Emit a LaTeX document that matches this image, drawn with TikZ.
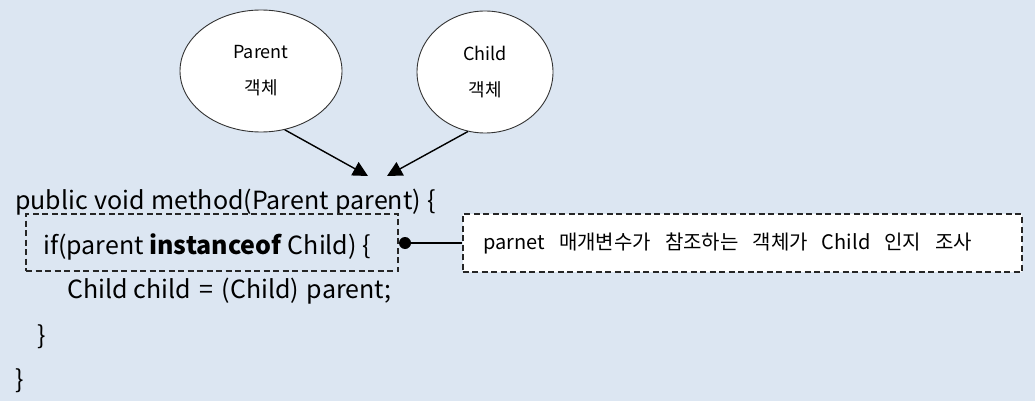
\documentclass[tikz,border=0pt]{standalone}
\usepackage{fontspec}
\setmainfont{Noto Sans CJK KR}
\usetikzlibrary{arrows.meta,shapes.geometric}
\definecolor{bg}{HTML}{DCE6F2}
\newcommand{\wsp}{\hspace{14pt}}
\begin{document}
\begin{tikzpicture}[x=1pt,y=-1pt,
  obj/.style={draw=black!80,line width=0.9pt,fill=white,ellipse,minimum width=#1,minimum height=122pt,align=center,font=\fontsize{18}{36}\selectfont,inner sep=0pt},
  code/.style={anchor=west,inner sep=0pt,font=\fontsize{25}{30}\selectfont},
  dbox/.style={draw=black!85,line width=2pt,dash pattern=on 6pt off 3.5pt},
  arr/.style={line width=1.4pt,-{Triangle[length=15pt,width=15pt]}}]
\useasboundingbox[fill=bg] (0,0) rectangle (1035,401);
\node[obj=162pt] (par) at (261,71) {Parent\\객체};
\node[obj=136pt] (chi) at (485,72) {Child\\객체};
\coordinate (t1) at (368,176);
\coordinate (t2) at (387,176);
\draw[arr] (par.-68) -- (t1);
\draw[arr] (chi.-106) -- (t2);
\node[code] (l1) at (15,202) {public\hspace{1pt} void\hspace{1pt} method(Parent\hspace{1pt} parent)\hspace{1pt} \{};
\node[code] (l2) at (43,247) {if(parent \textbf{instanceof} Child) \{};
\node[code] (l3) at (67,291) {Child child\hspace{3pt} =\hspace{3pt} (Child)\hspace{2pt} parent;};
\node[code] (l4) at (37,337) {\}};
\node[code] (l5) at (15,381) {\}};
\node[dbox,minimum width=372pt,minimum height=57pt] (ifb) at (212,242.5) {};
\node[dbox,fill=white,minimum height=58pt,text width=539pt,inner xsep=10pt,inner ysep=0pt,align=left,font=\fontsize{20}{24}\selectfont] (note) at (742,243) {\hspace*{11pt}parnet\wsp 매개변수가\wsp 참조하는\wsp 객체가\wsp Child\wsp 인지\wsp 조사};
\fill (405,243) circle (6pt) coordinate (dot);
\draw[line width=1.4pt] (dot) -- (note.west);
\end{tikzpicture}
\end{document}
